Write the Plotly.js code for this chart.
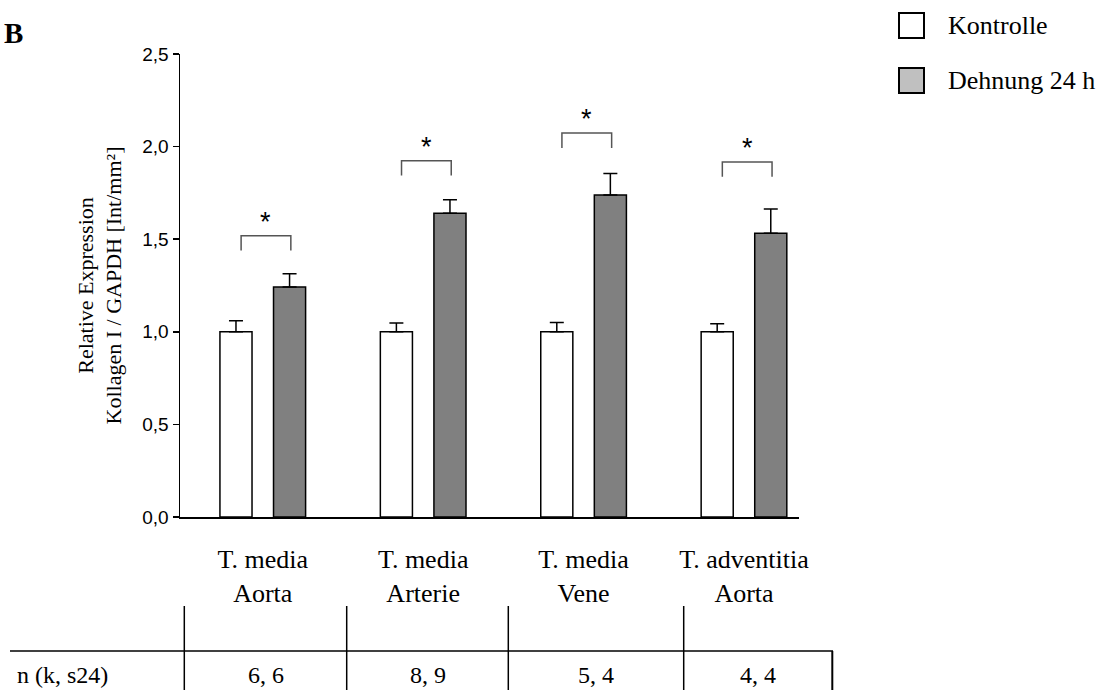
<!DOCTYPE html>
<html>
<head>
<meta charset="utf-8">
<script src="https://cdn.plot.ly/plotly-3.0.1.min.js"></script>
<style>html,body{margin:0;padding:0;background:#fff;}#chart{width:1102px;height:690px;}</style>
</head>
<body>
<div id="chart"></div>
<script>
// ---- data ----
const categories = ['T. media<br>Aorta', 'T. media<br>Arterie', 'T. media<br>Vene', 'T. adventitia<br>Aorta'];
const kontrolle = [1.0, 1.0, 1.0, 1.0];
const kontrolleErr = [0.060, 0.048, 0.050, 0.044];
const dehnung = [1.242, 1.640, 1.739, 1.532];
const dehnungErr = [0.072, 0.073, 0.116, 0.131];
const bracketY = [1.519, 1.924, 2.073, 1.917];
const sigLabels = ['*', '*', '*', '*'];
const nLabel = 'n (k, s24)';
const nValues = ['6, 6', '8, 9', '5, 4', '4, 4'];
const seriesNames = ['Kontrolle', 'Dehnung 24 h'];

// ---- layout helpers ----
const W = 1102, H = 690;
const M = {l: 180, r: 303, t: 54, b: 173};
const PW = W - M.l - M.r, PH = H - M.t - M.b;
const px = x => (x - M.l) / PW;           // pixel x -> paper
const py = y => (H - M.b - y) / PH;       // pixel y -> paper
const idx = categories.map((_, i) => i);
const serif = 'Liberation Serif, Times New Roman, serif';
const sans = 'Liberation Sans, Arial, sans-serif';

const traces = [
  {
    type: 'bar', name: seriesNames[0], x: idx, y: kontrolle,
    width: 0.2, offset: -0.267,
    marker: {color: '#ffffff', line: {color: '#000', width: 1.5}},
    error_y: {type: 'data', array: kontrolleErr, arrayminus: kontrolle.map(() => 0), symmetric: false,
              color: '#000', thickness: 1.5, width: 7},
    showlegend: false, hoverinfo: 'y'
  },
  {
    type: 'bar', name: seriesNames[1], x: idx, y: dehnung,
    width: 0.2, offset: 0.067,
    marker: {color: '#808080', line: {color: '#000', width: 1.5}},
    error_y: {type: 'data', array: dehnungErr, arrayminus: dehnung.map(() => 0), symmetric: false,
              color: '#000', thickness: 1.5, width: 7},
    showlegend: false, hoverinfo: 'y'
  }
];

const shapes = [];
const annotations = [];

// significance brackets
idx.forEach(i => {
  const y = bracketY[i], x0 = i - 0.135, x1 = i + 0.175;
  shapes.push({type: 'path', xref: 'x', yref: 'y',
    path: `M ${x0} ${y - 0.08} L ${x0} ${y} L ${x1} ${y} L ${x1} ${y - 0.08}`,
    line: {color: '#555', width: 1.5}});
  annotations.push({xref: 'x', yref: 'y', x: (x0 + x1) / 2, y: y + 0.075, text: sigLabels[i],
    showarrow: false, font: {family: sans, size: 27, color: '#000'}, xanchor: 'center', yanchor: 'middle'});
});

// table below the chart
const colLines = [184.3, 346.7, 508.3, 683.7];
colLines.forEach(x => shapes.push({type: 'line', xref: 'paper', yref: 'paper',
  x0: px(x), x1: px(x), y0: py(606), y1: py(690), line: {color: '#000', width: 1.5}}));
shapes.push({type: 'line', xref: 'paper', yref: 'paper', x0: px(832.3), x1: px(832.3),
  y0: py(651), y1: py(690), line: {color: '#000', width: 2}});
shapes.push({type: 'line', xref: 'paper', yref: 'paper', x0: px(10), x1: px(833),
  y0: py(651), y1: py(651), line: {color: '#000', width: 1.5}});
annotations.push({xref: 'paper', yref: 'paper', x: px(15), y: py(675), text: nLabel, showarrow: false,
  xanchor: 'left', yanchor: 'middle', font: {family: serif, size: 24, color: '#000'}});
const cellEdges = [184.3, 346.7, 508.3, 683.7, 832.3];
nValues.forEach((t, i) => annotations.push({xref: 'paper', yref: 'paper',
  x: px((cellEdges[i] + cellEdges[i + 1]) / 2), y: py(675), text: t, showarrow: false,
  xanchor: 'center', yanchor: 'middle', font: {family: serif, size: 24, color: '#000'}}));

// legend (drawn manually)
const legFill = ['#ffffff', '#c0c0c0'];
[25.5, 80.5].forEach((yc, i) => {
  shapes.push({type: 'rect', xref: 'paper', yref: 'paper', x0: px(899), x1: px(924),
    y0: py(yc - 12.5), y1: py(yc + 12.5), fillcolor: legFill[i], line: {color: '#000', width: 2}});
  annotations.push({xref: 'paper', yref: 'paper', x: px(946), y: py(yc), text: seriesNames[i],
    showarrow: false, xanchor: 'left', yanchor: 'middle', font: {family: serif, size: 26, color: '#000'}});
});

// panel letter
annotations.push({xref: 'paper', yref: 'paper', x: px(2), y: py(33), text: '<b>B</b>', showarrow: false,
  xanchor: 'left', yanchor: 'middle', font: {family: serif, size: 29, color: '#000'}});

const layout = {
  width: W, height: H,
  margin: M,
  paper_bgcolor: '#fff', plot_bgcolor: '#fff',
  separators: ', ',
  barmode: 'overlay',
  showlegend: false,
  xaxis: {
    range: [-0.516, 3.343], tickvals: idx, ticktext: categories,
    showline: true, linecolor: '#000', linewidth: 1.5, showgrid: false, zeroline: false,
    ticks: '', ticklabelstandoff: 18,
    tickfont: {family: serif, size: 26, color: '#000'}
  },
  yaxis: {
    range: [0, 2.5], dtick: 0.5, tickformat: '.1f',
    showline: true, linecolor: '#000', linewidth: 1.5, showgrid: false, zeroline: false,
    ticks: 'outside', ticklen: 6, tickwidth: 1.5, tickcolor: '#000',
    tickfont: {family: sans, size: 19, color: '#000'},
    title: {text: 'Relative Expression<br>Kollagen I / GAPDH [Int/mm²]', standoff: 14,
            font: {family: serif, size: 22, color: '#000'}}
  },
  shapes: shapes,
  annotations: annotations
};

Plotly.newPlot('chart', traces, layout, {displayModeBar: false, staticPlot: true});
</script>
</body>
</html>
